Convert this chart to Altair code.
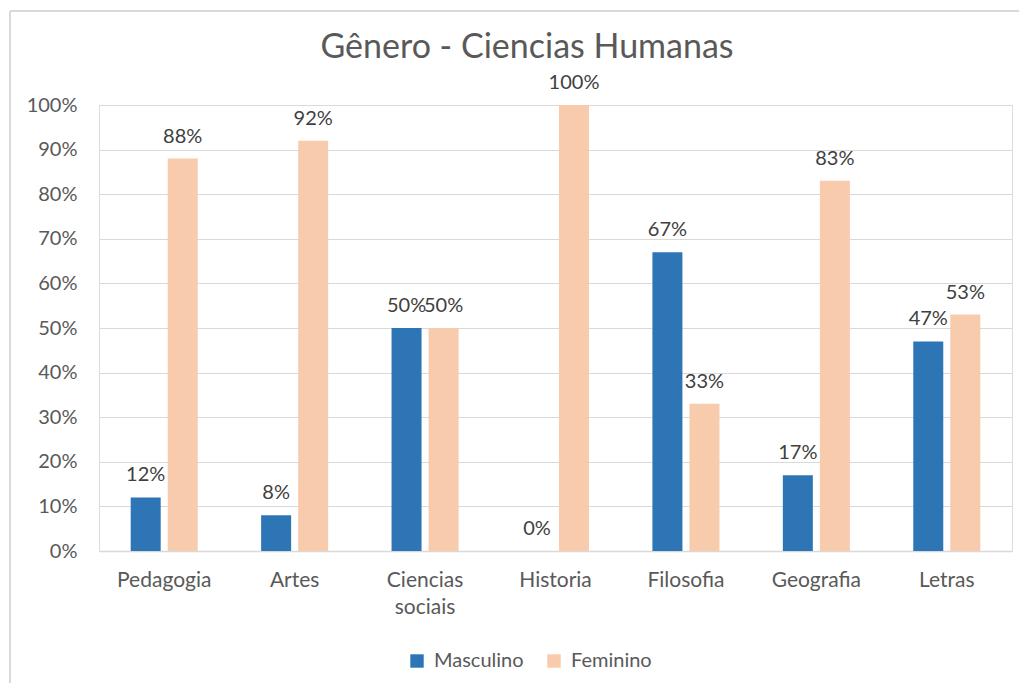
import altair as alt
import pandas as pd

cursos = ["Pedagogia", "Artes", "Ciencias sociais", "Historia", "Filosofia", "Geografia", "Letras"]
masculino = [12, 8, 50, 0, 67, 17, 47]
feminino = [88, 92, 50, 100, 33, 83, 53]
generos = ["Masculino", "Feminino"]
cores = ["#2E75B6", "#F8CBAD"]
y_ticks = [0, 10, 20, 30, 40, 50, 60, 70, 80, 90, 100]
titulo = "Gênero - Ciencias Humanas"

rows = []
for c, m, f in zip(cursos, masculino, feminino):
    rows.append({"curso": c, "genero": "Masculino", "valor": m})
    rows.append({"curso": c, "genero": "Feminino", "valor": f})
df = pd.DataFrame(rows)

FONT = "Lato"
GRAY = "#595959"

x_enc = alt.X(
    "curso:N", sort=cursos, title=None,
    scale=alt.Scale(paddingInner=0.486, paddingOuter=0.243),
    axis=alt.Axis(
        labelAngle=0, labelFontSize=21, labelColor=GRAY, labelFont=FONT,
        labelPadding=18, ticks=False, domainColor="#D9D9D9", domainWidth=1.5,
        labelLineHeight=27, labelBaseline="top",
        labelExpr="datum.value == 'Ciencias sociais' ? ['Ciencias', 'sociais'] : datum.value",
    ),
)
xo_enc = alt.XOffset("genero:N", sort=generos,
                     scale=alt.Scale(paddingInner=0.19, paddingOuter=0))
y_enc = alt.Y(
    "valor:Q", title=None,
    scale=alt.Scale(domain=[0, 100], nice=False),
    axis=alt.Axis(
        values=y_ticks, labelExpr="datum.value + '%'", labelFontSize=20,
        labelColor=GRAY, labelFont=FONT, labelPadding=22, ticks=False,
        domain=False, gridColor="#D9D9D9", gridWidth=1.2,
    ),
)
color_enc = alt.Color(
    "genero:N", sort=generos,
    scale=alt.Scale(domain=generos, range=cores),
    legend=alt.Legend(
        title=None, orient="none", direction="horizontal",
        legendX=308, legendY=546, symbolType="square", symbolSize=180,
        symbolStrokeWidth=0, labelFontSize=20, labelColor=GRAY, labelFont=FONT,
        labelOffset=7, columnPadding=20,
    ),
)

base = alt.Chart(df)

bars = base.mark_bar().encode(x=x_enc, xOffset=xo_enc, y=y_enc, color=color_enc)

labels = base.mark_text(
    baseline="alphabetic", dy=-16, fontSize=20, font=FONT, color="#404040"
).transform_calculate(rotulo="datum.valor + '%'").encode(
    x=alt.X("curso:N", sort=cursos),
    xOffset=alt.XOffset("genero:N", sort=generos),
    y="valor:Q",
    text="rotulo:N",
)

deco_data = alt.Data(values=[{"t": titulo}])
borda_topo = alt.Chart(deco_data).mark_rule(color="#D9D9D9", strokeWidth=2).encode(
    x=alt.value(-89), x2=alt.value(940), y=alt.value(-94)
)
borda_esq = alt.Chart(deco_data).mark_rule(color="#D9D9D9", strokeWidth=2).encode(
    x=alt.value(-89), y=alt.value(-94), y2=alt.value(600)
)
titulo_txt = alt.Chart(deco_data).mark_text(
    fontSize=34, font=FONT, color=GRAY, align="center", baseline="alphabetic"
).encode(x=alt.value(428), y=alt.value(-47), text="t:N")

chart = alt.layer(borda_topo, borda_esq, titulo_txt, bars, labels).properties(
    width=913,
    height=446,
    autosize="none",
    padding={"left": 91, "top": 97, "right": 7, "bottom": 132},
).configure_view(stroke=None).configure(background="white")

chart.save("out.html", embed_options={"renderer": "svg", "actions": False})
